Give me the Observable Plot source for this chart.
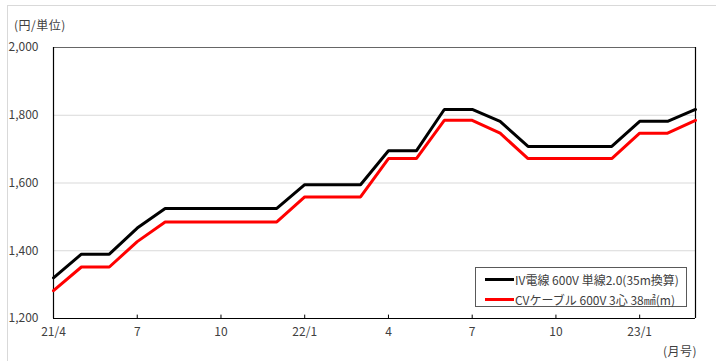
<!DOCTYPE html>
<html>
<head>
<meta charset="utf-8">
<script src="https://cdn.jsdelivr.net/npm/d3@7"></script>
<script src="https://cdn.jsdelivr.net/npm/@observablehq/plot@0.6"></script>
<style>
  html, body { margin: 0; padding: 0; background: #fff; }
  #wrap { position: relative; width: 720px; height: 361px; font-family: "Noto Sans CJK JP", sans-serif; color: #404040; }
  #border { position: absolute; left: 7px; top: 5px; width: 708px; height: 360px; border-left: 1px solid #d9d9d9; border-top: 1px solid #d9d9d9; }
  .unit { position: absolute; font-size: 12px; line-height: 14px; color: #404040; white-space: nowrap; }
  #legend { position: absolute; left: 475px; top: 267px; width: 212px; height: 40px; border: 1px solid #595959; background: #fff; box-sizing: border-box; }
  .item { position: absolute; left: 9px; height: 16px; display: flex; align-items: center; font-size: 12px; color: #404040; white-space: nowrap; }
  .swatch { width: 29px; height: 3px; margin-right: 1px; }
</style>
</head>
<body>
<div id="wrap">
  <div id="border"></div>
  <div id="chart"></div>
  <div class="unit" id="yunit" style="left:14px; top:18px; letter-spacing:0.5px;"></div>
  <div class="unit" id="xunit" style="left:663px; top:344px; letter-spacing:0.5px;"></div>
  <div id="legend"></div>
</div>
<script>
// Months 21/4 .. 23/3
const months = ["21/4","21/5","21/6","21/7","21/8","21/9","21/10","21/11","21/12",
  "22/1","22/2","22/3","22/4","22/5","22/6","22/7","22/8","22/9","22/10","22/11","22/12",
  "23/1","23/2","23/3"];
// IV電線 600V 単線2.0 (35m換算)
const ivWire = [1320,1390,1390,1467,1525,1525,1525,1525,1525,
  1595,1595,1595,1695,1695,1817,1817,1782,1708,1708,1708,1708,
  1782,1782,1817];
// CVケーブル 600V 3心 38㎟ (m)
const cvCable = [1282,1352,1352,1427,1485,1485,1485,1485,1485,
  1559,1559,1559,1672,1672,1785,1785,1747,1672,1672,1672,1672,
  1747,1747,1785];
const seriesNames = ["IV電線 600V 単線2.0(35m換算)", "CVケーブル 600V 3心 38㎟(m)"];
const seriesColors = ["#000000", "#ff0000"];
const xTickMonths = ["21/4","21/7","21/10","22/1","22/4","22/7","22/10","23/1"];
const xTickLabels = ["21/4","7","10","22/1","4","7","10","23/1"];
const yTicks = [1200, 1400, 1600, 1800, 2000];
const yGrid = [1400, 1600, 1800];
const yUnit = "(円/単位)";
const xUnit = "(月号)";

const rows = [];
[ivWire, cvCable].forEach((vals, s) => vals.forEach((v, i) => rows.push({i, month: months[i], value: v, series: seriesNames[s]})));
const tickIdx = xTickMonths.map(m => months.indexOf(m));
const lastIdx = months.length - 1;

const chart = Plot.plot({
  width: 720,
  height: 361,
  marginLeft: 53,
  marginRight: 25,
  marginTop: 47,
  marginBottom: 43,
  style: { fontFamily: "'Noto Sans CJK JP', sans-serif", fontSize: "12px", color: "#404040", background: "transparent" },
  x: { type: "linear", domain: [0, lastIdx] },
  y: { domain: [yTicks[0], yTicks[yTicks.length - 1]] },
  color: { domain: seriesNames, range: seriesColors },
  marks: [
    Plot.ruleY(yGrid, { stroke: "#d9d9d9", strokeWidth: 1 }),
    Plot.ruleY([yTicks[yTicks.length - 1]], { stroke: "#666", strokeWidth: 1.2 }),
    Plot.ruleX([0, lastIdx], { stroke: "#000", strokeWidth: 1.2 }),
    Plot.ruleY([yTicks[0]], { stroke: "#000", strokeWidth: 1.2 }),
    Plot.ruleX(tickIdx.slice(1), { y1: yTicks[0], y2: yTicks[0] + 10, stroke: "#000", strokeWidth: 1 }),
    Plot.line(rows, { x: "i", y: "value", z: "series", stroke: "series", strokeWidth: 3, strokeLinejoin: "miter" }),
    Plot.axisY({ ticks: yTicks, tickFormat: d3.format(","), tickSize: 0, tickPadding: 15, fontSize: 12, label: null }),
    Plot.axisX({ ticks: tickIdx, tickFormat: d => xTickLabels[tickIdx.indexOf(d)], tickSize: 0, tickPadding: 9, fontSize: 12, label: null })
  ]
});
document.getElementById("chart").appendChild(chart);
document.getElementById("yunit").textContent = yUnit;
document.getElementById("xunit").textContent = xUnit;

const legend = document.getElementById("legend");
seriesNames.forEach((name, k) => {
  const item = document.createElement("div");
  item.className = "item";
  item.style.top = (3 + k * 20) + "px";
  const sw = document.createElement("span");
  sw.className = "swatch";
  sw.style.background = seriesColors[k];
  const tx = document.createElement("span");
  tx.textContent = name;
  item.appendChild(sw);
  item.appendChild(tx);
  legend.appendChild(item);
});
</script>
</body>
</html>
